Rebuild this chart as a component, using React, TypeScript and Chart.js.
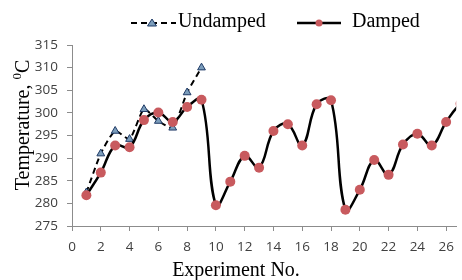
import React, { useEffect, useRef } from "react";
import { Chart, registerables } from "chart.js";

Chart.register(...registerables);

const experiments = [1, 2, 3, 4, 5, 6, 7, 8, 9, 10, 11, 12, 13, 14, 15, 16, 17, 18, 19, 20, 21, 22, 23, 24, 25, 26, 27, 28];
const damped = [281.8, 286.8, 292.8, 292.4, 298.4, 300.1, 298.0, 301.3, 302.9, 279.6, 284.8, 290.5, 287.9, 296.0, 297.5, 292.8, 301.9, 302.8, 278.6, 283.0, 289.6, 286.3, 293.0, 295.4, 292.8, 298.0, 302.0, 303.5];
const undampedX = [1, 2, 3, 4, 5, 6, 7, 8, 9];
const undamped = [282.4, 291.0, 296.0, 294.2, 300.8, 298.2, 296.7, 304.5, 310.0];

const yTicks = [275, 280, 285, 290, 295, 300, 305, 310, 315];
const xTickStep = 2;
const seriesNames = ["Undamped", "Damped"];
const xTitle = "Experiment No.";
const yTitleMain = "Temperature, ";
const yTitleSup = "0";
const yTitleUnit = "C";

const DAMPED_FILL = "#c85a5e";
const UND_FILL = "#7b9dbb";
const UND_BORDER = "#1f3a66";
const AXIS = "#8c8c8c";

const overlay = {
  id: "overlay",
  afterDraw(chart: any) {
    const ctx = chart.ctx;
    ctx.save();
    ctx.fillStyle = "#000";
    ctx.font = "20px 'Liberation Serif', 'Times New Roman', serif";
    ctx.textBaseline = "alphabetic";
    // Legend
    const ly = 23;
    ctx.strokeStyle = "#000";
    ctx.lineWidth = 2.2;
    ctx.setLineDash([6, 4]);
    ctx.beginPath();
    ctx.moveTo(131, ly);
    ctx.lineTo(176, ly);
    ctx.stroke();
    ctx.setLineDash([]);
    ctx.beginPath();
    ctx.moveTo(152, ly - 4);
    ctx.lineTo(156.5, ly + 3);
    ctx.lineTo(147.5, ly + 3);
    ctx.closePath();
    ctx.fillStyle = UND_FILL;
    ctx.fill();
    ctx.strokeStyle = UND_BORDER;
    ctx.lineWidth = 1;
    ctx.stroke();
    ctx.fillStyle = "#000";
    ctx.textAlign = "left";
    ctx.fillText(seriesNames[0], 178, 27);

    ctx.strokeStyle = "#000";
    ctx.lineWidth = 2.5;
    ctx.beginPath();
    ctx.moveTo(297, ly);
    ctx.lineTo(341, ly);
    ctx.stroke();
    ctx.beginPath();
    ctx.arc(319, ly, 3.5, 0, Math.PI * 2);
    ctx.fillStyle = DAMPED_FILL;
    ctx.fill();
    ctx.fillStyle = "#000";
    ctx.fillText(seriesNames[1], 352, 27);

    // X title
    ctx.textAlign = "center";
    ctx.fillText(xTitle, 236, 276);

    // Y title
    ctx.translate(29, 125);
    ctx.rotate(-Math.PI / 2);
    const mainFont = "20px 'Liberation Serif', 'Times New Roman', serif";
    const supFont = "13px 'Liberation Serif', 'Times New Roman', serif";
    ctx.font = mainFont;
    const w1 = ctx.measureText(yTitleMain).width;
    const w3 = ctx.measureText(yTitleUnit).width;
    ctx.font = supFont;
    const w2 = ctx.measureText(yTitleSup).width;
    const total = w1 + w2 + w3;
    let x = -total / 2;
    ctx.textAlign = "left";
    ctx.font = mainFont;
    ctx.fillText(yTitleMain, x, 0);
    x += w1;
    ctx.font = supFont;
    ctx.fillText(yTitleSup, x, -8);
    x += w2;
    ctx.font = mainFont;
    ctx.fillText(yTitleUnit, x, 0);
    ctx.restore();
  },
};

export default function App() {
  const ref = useRef<HTMLCanvasElement>(null);
  useEffect(() => {
    if (!ref.current) return;
    const chart = new Chart(ref.current, {
      type: "line",
      data: {
        datasets: [
          {
            label: seriesNames[0],
            data: undampedX.map((x, i) => ({ x, y: undamped[i] })),
            borderColor: "#000",
            borderWidth: 2,
            borderDash: [6, 4],
            tension: 0.2,
            pointStyle: "triangle",
            pointRadius: 4.5,
            pointBackgroundColor: UND_FILL,
            pointBorderColor: UND_BORDER,
            pointBorderWidth: 1,
            order: 1,
          },
          {
            label: seriesNames[1],
            data: experiments.map((x, i) => ({ x, y: damped[i] })),
            borderColor: "#000",
            borderWidth: 2.5,
            tension: 0.4,
            pointStyle: "circle",
            pointRadius: 5,
            pointBackgroundColor: DAMPED_FILL,
            pointBorderColor: DAMPED_FILL,
            pointBorderWidth: 0,
            order: 0,
          },
        ],
      },
      options: {
        animation: false,
        responsive: false,
        maintainAspectRatio: false,
        events: [],
        layout: { padding: { top: 45, left: 0, right: 0, bottom: 0 } },
        plugins: { legend: { display: false }, tooltip: { enabled: false } },
        scales: {
          x: {
            type: "linear",
            min: 0,
            max: 26.7,
            afterFit: (s: any) => {
              s.height = 54;
            },
            border: { color: AXIS, width: 1 },
            grid: { drawOnChartArea: false, drawTicks: true, tickLength: 5, color: AXIS },
            ticks: {
              stepSize: xTickStep,
              includeBounds: false,
              padding: 8,
              color: "#404040",
              font: { family: "'Open Sans', sans-serif", size: 13.5 },
              maxRotation: 0,
            },
          },
          y: {
            min: yTicks[0],
            max: yTicks[yTicks.length - 1],
            afterFit: (s: any) => {
              s.width = 72;
            },
            afterBuildTicks: (s: any) => {
              s.ticks = yTicks.map((v) => ({ value: v }));
            },
            border: { color: AXIS, width: 1 },
            grid: { drawOnChartArea: false, drawTicks: true, tickLength: 5, color: AXIS },
            ticks: {
              padding: 9,
              color: "#404040",
              font: { family: "'Open Sans', sans-serif", size: 13.5 },
            },
          },
        },
      },
      plugins: [overlay],
    });
    return () => chart.destroy();
  }, []);
  return (
    <div style={{ position: "fixed", left: 0, top: 0, width: 462, height: 280, background: "#fff" }}>
      <canvas ref={ref} width={462} height={280} style={{ width: 462, height: 280 }} />
    </div>
  );
}
